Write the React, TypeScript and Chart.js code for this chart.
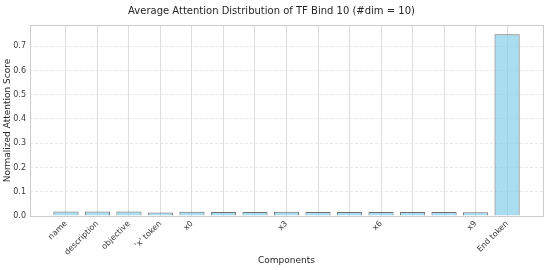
import React, { useEffect, useRef } from "react";
import { Chart, registerables } from "chart.js";

Chart.register(...registerables);

const categories = [
  "name", "description", "objective", "'x' token", "x0", "x1", "x2", "x3",
  "x4", "x5", "x6", "x7", "x8", "x9", "End token",
];
const shownLabels = [
  "name", "description", "objective", "'x' token", "x0", "", "", "x3",
  "", "", "x6", "", "", "x9", "End token",
];
const scores = [
  0.019, 0.019, 0.019, 0.014, 0.018, 0.017, 0.017, 0.018,
  0.017, 0.017, 0.017, 0.016, 0.016, 0.015, 0.749,
];
const yTicks = [0, 0.1, 0.2, 0.3, 0.4, 0.5, 0.6, 0.7];

const FONT = "'DejaVu Sans', sans-serif";

const framePlugin = {
  id: "frame",
  afterDraw(chart: any) {
    const { ctx, chartArea } = chart;
    ctx.save();
    ctx.strokeStyle = "#cccccc";
    ctx.lineWidth = 1;
    ctx.strokeRect(
      Math.round(chartArea.left) + 0.5,
      Math.round(chartArea.top) + 0.5,
      Math.round(chartArea.right - chartArea.left),
      Math.round(chartArea.bottom - chartArea.top)
    );
    ctx.restore();
  },
};

export default function App() {
  const ref = useRef<HTMLCanvasElement | null>(null);
  useEffect(() => {
    if (!ref.current) return;
    const chart = new Chart(ref.current, {
      type: "bar",
      data: {
        datasets: [
          {
            data: scores.map((v, i) => ({ x: i, y: v })),
            backgroundColor: "rgba(135,206,235,0.7)",
            borderColor: "rgba(0,0,0,0.55)",
            borderWidth: 1,
            barPercentage: 0.8,
            categoryPercentage: 1.0,
          },
        ],
      },
      options: {
        animation: false,
        responsive: true,
        maintainAspectRatio: false,
        layout: { padding: { left: 0, right: 5, top: 0, bottom: 0 } },
        plugins: {
          legend: { display: false },
          tooltip: { enabled: false },
          title: {
            display: true,
            text: "Average Attention Distribution of TF Bind 10 (#dim = 10)",
            color: "#262626",
            font: { family: FONT, size: 10, weight: "normal" },
            padding: { top: 5, bottom: 8 },
          },
        },
        scales: {
          x: {
            type: "linear",
            offset: false,
            min: -1.14,
            max: 15.14,
            afterBuildTicks: (scale: any) => {
              scale.ticks = categories.map((_, i) => ({ value: i }));
            },
            afterFit: (scale: any) => {
              scale.height = 54;
            },
            ticks: {
              autoSkip: false,
              minRotation: 45,
              maxRotation: 45,
              padding: 3,
              color: "#3a3a3a",
              font: { family: FONT, size: 8 },
              callback: (v: any) => shownLabels[Math.round(Number(v))] ?? "",
            },
            grid: { color: "#dddddd", drawTicks: false, lineWidth: 1, offset: false },
            border: { display: false },
            title: {
              display: true,
              text: "Components",
              color: "#262626",
              font: { family: FONT, size: 9 },
              padding: { top: 0, bottom: 4 },
            },
          },
          y: {
            type: "linear",
            min: 0,
            max: 0.7875,
            afterBuildTicks: (scale: any) => {
              scale.ticks = yTicks.map((v) => ({ value: v }));
            },
            afterFit: (scale: any) => {
              scale.width = 30;
            },
            ticks: {
              padding: 4,
              color: "#3a3a3a",
              font: { family: FONT, size: 8 },
              callback: (v: any) => Number(v).toFixed(1),
            },
            grid: { color: "#e2e2e2", drawTicks: false, lineWidth: 0.8 },
            border: { display: false, dash: [3, 2] },
            title: {
              display: true,
              text: "Normalized Attention Score",
              color: "#262626",
              font: { family: FONT, size: 9 },
              padding: { top: 2, bottom: 0 },
            },
          },
        },
      } as any,
      plugins: [framePlugin],
    });
    return () => chart.destroy();
  }, []);
  return (
    <div style={{ position: "fixed", left: 0, top: 0, width: 548, height: 270, background: "#ffffff" }}>
      <canvas ref={ref} />
    </div>
  );
}
